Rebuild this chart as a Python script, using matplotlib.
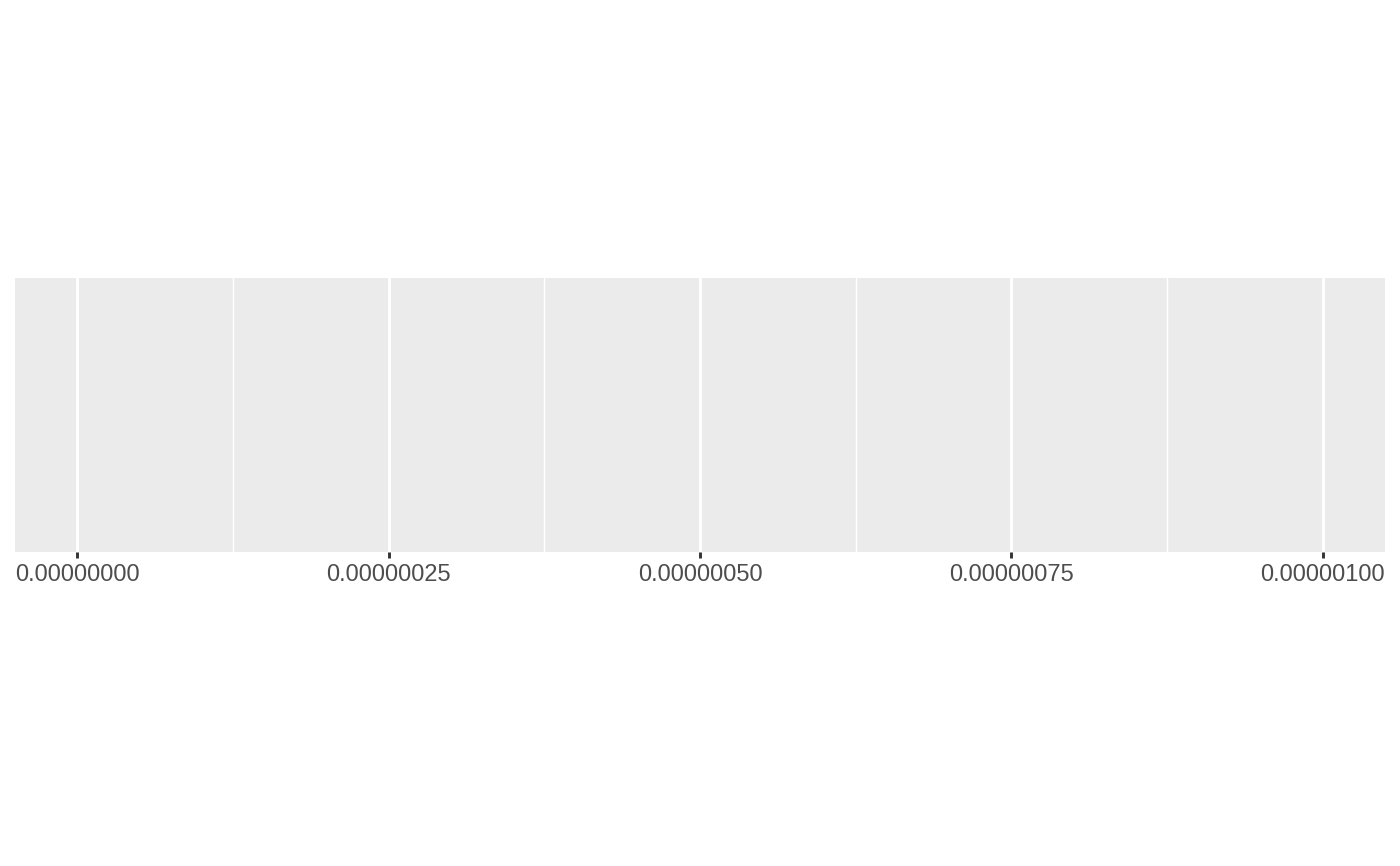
import numpy as np
import matplotlib.pyplot as plt

# x breaks and limits (empty panel, x axis only)
x_breaks = [0.0, 0.25e-6, 0.5e-6, 0.75e-6, 1.0e-6]
x_minor = [0.125e-6, 0.375e-6, 0.625e-6, 0.875e-6]
x_labels = ["0.00000000", "0.00000025", "0.00000050", "0.00000075", "0.00000100"]
x_range = [0.0, 1.0e-6]

plt.rcParams['font.family'] = ['Liberation Sans', 'DejaVu Sans']

fig = plt.figure(figsize=(14, 8.66), dpi=100)
ax = fig.add_axes([15/1400, 1 - 552/866, (1385 - 15)/1400, (552 - 278)/866])

pad = 0.05 * (x_range[1] - x_range[0])
ax.set_xlim(x_range[0] - pad, x_range[1] + pad)
ax.set_ylim(0, 1)
ax.set_facecolor("#EBEBEB")
for s in ax.spines.values():
    s.set_visible(False)

ax.set_xticks(x_breaks)
ax.set_xticklabels(x_labels)
ax.set_xticks(x_minor, minor=True)
ax.set_yticks([])

ax.grid(True, which="major", axis="x", color="white", linewidth=2.1)
ax.grid(True, which="minor", axis="x", color="white", linewidth=1.05)
ax.set_axisbelow(True)

ax.tick_params(axis="x", which="major", length=4.3, width=2.1, color="#333333",
               labelsize=17, labelcolor="#4D4D4D", pad=4)
ax.tick_params(axis="x", which="minor", length=0)

fig.savefig("out.png", dpi=100, facecolor="white")
